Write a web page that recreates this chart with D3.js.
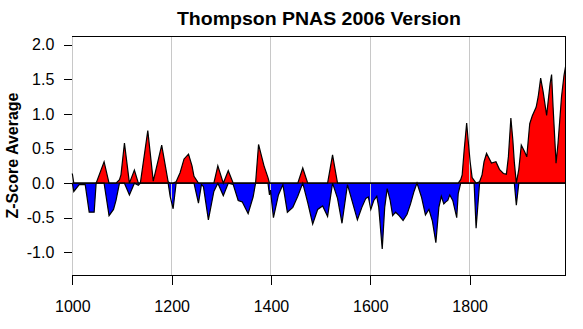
<!DOCTYPE html>
<html><head><meta charset="utf-8">
<script src="https://cdn.jsdelivr.net/npm/d3@7"></script>
<style>
html,body{margin:0;padding:0;background:#fff;}
text{font-family:"Liberation Sans",Arial,Helvetica,sans-serif;}
</style></head>
<body><svg id="c" width="583" height="329"></svg>
<script>
const years = [1000,1003,1014,1026,1034,1044,1048,1064,1074,1083,1088,1095,1098,1105,1115,1125,1133,1137,1152,1163,1180,1193,1197,1203,1209,1217,1225,1234,1241,1245,1254,1260,1264,1274,1285,1293,1304,1314,1324,1334,1342,1354,1364,1369,1375,1386,1394,1397,1399,1405,1415,1424,1433,1444,1454,1464,1474,1484,1494,1504,1514,1524,1534,1543,1554,1563,1574,1583,1591,1596,1601,1607,1613,1617,1624,1629,1634,1640,1645,1651,1658,1666,1674,1681,1688,1694,1703,1711,1718,1725,1732,1738,1743,1748,1752,1756,1760,1766,1774,1777,1782,1785,1789,1794,1797,1801,1805,1809,1813,1820,1825,1829,1834,1844,1853,1860,1868,1874,1878,1883,1887,1890,1894,1899,1904,1911,1915,1921,1926,1934,1938,1943,1948,1955,1962,1965,1968,1974,1978,1985,1990,1993];
const zscores = [0.14,-0.12,-0.02,-0.02,-0.42,-0.42,0.00,0.31,-0.47,-0.38,-0.25,0.05,0.12,0.58,-0.17,0.19,-0.03,0.00,0.76,0.03,0.55,0.02,-0.19,-0.37,0.02,0.15,0.35,0.42,0.25,0.10,-0.29,-0.02,-0.05,-0.53,-0.12,0.25,-0.18,0.18,-0.02,-0.25,-0.27,-0.44,-0.20,0.00,0.56,0.25,0.08,-0.17,-0.10,-0.50,-0.17,-0.02,-0.42,-0.35,-0.19,0.22,-0.28,-0.59,-0.38,-0.33,-0.48,0.41,-0.22,-0.58,-0.02,-0.25,-0.53,-0.35,-0.22,-0.20,-0.38,-0.25,-0.19,-0.35,-0.95,-0.35,-0.08,-0.25,-0.47,-0.42,-0.47,-0.54,-0.45,-0.30,-0.12,0.00,-0.20,-0.46,-0.38,-0.55,-0.86,-0.35,-0.19,-0.30,-0.27,-0.25,-0.17,-0.25,-0.50,-0.15,0.05,0.12,0.48,0.87,0.62,0.31,0.08,0.04,-0.65,0.02,0.12,0.31,0.43,0.29,0.31,0.20,0.14,0.13,0.38,0.94,0.62,0.30,-0.32,0.20,0.55,0.45,0.38,0.86,0.97,1.10,1.25,1.52,1.32,0.98,1.44,1.57,1.10,0.29,0.58,1.25,1.56,1.68];
const xTicks = [1000,1200,1400,1600,1800];
const yTicks = [-1.0,-0.5,0.0,0.5,1.0,1.5,2.0];
const title = "Thompson PNAS 2006 Version";
const yTitle = "Z-Score Average";

const L=72.3, R=565.5, T=36, B=275;
const x = d3.scaleLinear().domain([1000,1993]).range([L,R]);
const y = d3.scaleLinear().domain([-1.328,2.128]).range([B,T]);
const svg = d3.select("#c");
const data = years.map((yr,i)=>({yr, v:zscores[i]}));

const areaPos = d3.area().x(d=>x(d.yr)).y0(y(0)).y1(d=>y(Math.max(d.v,0)));
const areaNeg = d3.area().x(d=>x(d.yr)).y0(y(0)).y1(d=>y(Math.min(d.v,0)));
const linePos = d3.line().x(d=>x(d.yr)).y(d=>y(Math.max(d.v,0)));
const lineNeg = d3.line().x(d=>x(d.yr)).y(d=>y(Math.min(d.v,0)));

svg.append("path").attr("d",areaPos(data)).attr("fill","#ff0000");
svg.append("path").attr("d",areaNeg(data)).attr("fill","#0000ff");

// grid
svg.append("g").selectAll("line").data(xTicks).join("line")
  .attr("x1",d=>x(d)).attr("x2",d=>x(d)).attr("y1",T).attr("y2",B)
  .attr("stroke","#c8c8c8").attr("stroke-width",1).attr("shape-rendering","crispEdges");

svg.append("path").attr("d",linePos(data)).attr("fill","none").attr("stroke","#000").attr("stroke-width",1.2);
svg.append("path").attr("d",lineNeg(data)).attr("fill","none").attr("stroke","#000").attr("stroke-width",1.2);
svg.append("line").attr("x1",L).attr("x2",R).attr("y1",y(0)).attr("y2",y(0))
  .attr("stroke","#000").attr("stroke-width",1.2);

// box (top, right, bottom)
svg.append("path").attr("d",`M${L},${T}H${R}V${B}H${L}`).attr("fill","none")
  .attr("stroke","#000").attr("stroke-width",1).attr("shape-rendering","crispEdges");

// x axis
const xa = svg.append("g").attr("transform",`translate(0,${B})`)
  .call(d3.axisBottom(x).tickValues(xTicks).tickSize(10).tickPadding(16).tickFormat(d3.format("d")));
xa.select(".domain").remove();
xa.selectAll("line").attr("shape-rendering","crispEdges");
xa.selectAll("text").attr("font-size",16).attr("font-family","Liberation Sans, Arial, sans-serif").attr("fill","#000");

// y axis
const ya = svg.append("g").attr("transform",`translate(${L},0)`)
  .call(d3.axisLeft(y).tickValues(yTicks).tickSize(8).tickPadding(10).tickFormat(d3.format(".1f")));
ya.select(".domain").remove();
ya.selectAll("line").attr("shape-rendering","crispEdges");
ya.selectAll("text").attr("font-size",16).attr("font-family","Liberation Sans, Arial, sans-serif").attr("fill","#000")
  .text(d=>d3.format(".1f")(d).replace("\u2212","-"));

svg.append("text").attr("x",(L+R)/2).attr("y",25).attr("text-anchor","middle")
  .attr("font-size",19).attr("font-weight","bold").attr("textLength",284).attr("lengthAdjust","spacingAndGlyphs").text(title);
svg.append("text").attr("transform",`translate(18,${(T+B)/2}) rotate(-90)`).attr("text-anchor","middle")
  .attr("font-size",16).attr("font-weight","bold").text(yTitle);
</script></body></html>
